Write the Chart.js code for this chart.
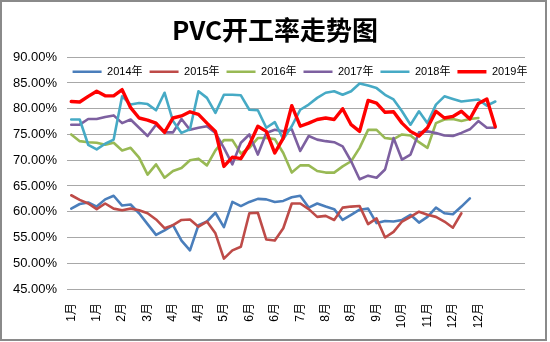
<!DOCTYPE html>
<html>
<head>
<meta charset="utf-8">
<script src="https://cdn.jsdelivr.net/npm/chart.js@4.4.1/dist/chart.umd.min.js"></script>
<style>
  html, body { margin: 0; padding: 0; background: #fff; }
  #wrap { width: 550px; height: 342px; position: relative; }
</style>
</head>
<body>
<div id="wrap"><canvas id="c" width="550" height="342"></canvas></div>
<script>
// Weekly operating rate of PVC plants (%), one list per year
const seriesNames = ['2014年', '2015年', '2016年', '2017年', '2018年', '2019年'];

// Month tick labels, shown on every third week
const tickMonths = ['1月', '1月', '2月', '3月', '4月', '4月', '5月', '6月', '6月',
                    '7月', '8月', '8月', '9月', '10月', '11月', '12月', '12月'];
const weekCount = 54;

const rate2014 = [60.6, 61.5, 61.8, 61.0, 62.4, 63.1, 61.2, 61.4, 59.7, 57.6,
                  55.5, 56.4, 57.4, 54.4, 52.5, 57.4, 58.1, 59.8, 57.0, 61.9,
                  61.1, 61.9, 62.5, 62.4, 61.9, 62.1, 62.8, 63.1, 60.8, 61.6,
                  61.0, 60.5, 58.4, 59.4, 60.4, 60.6, 57.8, 58.2, 58.1, 58.4,
                  59.4, 57.9, 59.0, 60.8, 59.7, 59.5, 61.0, 62.6];
const rate2015 = [63.2, 62.3, 61.6, 60.5, 61.6, 60.6, 60.3, 60.6, 60.3, 59.7,
                  58.5, 56.8, 57.4, 58.4, 58.5, 57.1, 58.1, 55.8, 50.9, 52.5,
                  53.2, 59.7, 59.8, 54.6, 54.4, 56.8, 61.6, 61.6, 60.5, 59.0,
                  59.2, 58.4, 60.8, 61.0, 61.1, 57.6, 58.7, 55.0, 56.1, 58.1,
                  59.0, 60.0, 59.4, 59.0, 58.1, 56.9, 59.7];
const rate2016 = [75.0, 73.7, 73.5, 73.4, 73.0, 73.4, 71.9, 72.4, 70.5, 67.2,
                  69.2, 66.6, 67.9, 68.5, 70.0, 70.3, 69.0, 71.9, 73.9, 73.9,
                  71.3, 72.4, 74.3, 74.3, 74.1, 71.4, 67.6, 69.0, 69.0, 67.9,
                  67.6, 67.6, 68.8, 69.8, 72.4, 75.9, 75.9, 74.3, 74.1, 75.0,
                  74.8, 73.5, 72.4, 77.2, 77.9, 78.0, 77.6, 78.0, 78.2];
const rate2017 = [76.9, 76.9, 78.0, 78.0, 78.4, 78.7, 77.2, 77.9, 76.3, 74.7,
                  76.9, 75.4, 75.4, 78.0, 75.9, 76.3, 76.6, 75.3, 72.4, 69.2,
                  73.4, 75.0, 71.1, 75.3, 75.9, 75.6, 76.0, 71.8, 74.7, 74.0,
                  73.7, 73.5, 72.7, 69.8, 66.3, 67.0, 66.6, 68.2, 74.3, 70.1,
                  71.1, 75.4, 75.6, 75.3, 74.8, 74.7, 75.3, 76.0, 77.6, 76.3,
                  76.3];
const rate2018 = [77.9, 77.9, 73.0, 72.1, 73.2, 74.0, 82.4, 80.8, 81.1, 80.9,
                  79.7, 83.1, 77.6, 75.3, 76.0, 83.4, 82.1, 79.2, 82.7, 82.7,
                  82.6, 79.8, 79.7, 76.3, 77.4, 74.1, 76.6, 79.8, 80.8, 82.1,
                  83.1, 83.4, 82.7, 83.4, 84.9, 84.5, 84.0, 82.7, 81.8, 79.5,
                  76.9, 79.5, 77.2, 80.8, 82.4, 81.9, 81.4, 81.6, 81.8, 80.6,
                  81.4];
const rate2019 = [81.4, 81.3, 82.4, 83.4, 82.5, 82.5, 83.7, 80.2, 78.2, 77.8,
                  77.2, 75.4, 78.2, 78.6, 79.4, 78.9, 77.2, 75.6, 68.8, 70.6,
                  70.3, 73.0, 76.6, 75.6, 71.4, 74.3, 80.6, 76.6, 77.2, 77.9,
                  78.2, 77.9, 80.0, 76.9, 75.6, 81.6, 81.1, 79.3, 79.4, 77.2,
                  75.6, 74.7, 76.3, 79.5, 78.2, 78.5, 79.5, 78.0, 81.0, 81.9,
                  76.5];

const seriesData = [rate2014, rate2015, rate2016, rate2017, rate2018, rate2019];
const seriesColors = ['#4a7ebb', '#be4b48', '#98b954', '#7d60a0', '#46aac5', '#ff0000'];
const seriesWidths = [2.6, 2.6, 2.6, 2.6, 2.6, 3.4];

const weekLabels = [];
for (let i = 0; i < weekCount; i++) {
  weekLabels.push(i % 3 === 0 && tickMonths[i / 3] ? tickMonths[i / 3] : '');
}

const latin = '"Liberation Sans", "Noto Sans CJK SC", sans-serif';

// White page with a thin grey frame around the chart
const framePlugin = {
  id: 'frame',
  beforeDraw(chart) {
    const ctx = chart.ctx;
    ctx.save();
    ctx.fillStyle = '#ffffff';
    ctx.fillRect(0, 0, chart.width, chart.height);
    ctx.strokeStyle = '#8a8a8a';
    ctx.lineWidth = 2;
    ctx.strokeRect(1, 1, 545, 339);
    ctx.restore();
  }
};

// Title centred on the whole page; legend moved inside the top of the plot area,
// centred over the plot
const placementPlugin = {
  id: 'placement',
  afterLayout(chart) {
    const tb = chart.titleBlock;
    if (tb) {
      tb.left = 0;
      tb.right = chart.width;
      tb.width = chart.width;
    }
    const lg = chart.legend;
    if (lg) {
      const area = chart.chartArea;
      const shift = (area.left + area.right) / 2 - (lg.left + lg.right) / 2 + 4;
      lg.left += shift;
      lg.right += shift;
      const top = area.top + 2;
      lg.top = top;
      lg.height = 30;
      lg.bottom = top + 30;
    }
  }
};

new Chart(document.getElementById('c'), {
  type: 'line',
  data: {
    labels: weekLabels,
    datasets: seriesNames.map((name, k) => ({
      label: name,
      data: seriesData[k],
      borderColor: seriesColors[k],
      backgroundColor: seriesColors[k],
      borderWidth: seriesWidths[k],
      pointRadius: 0,
      tension: 0,
      fill: false,
      borderJoinStyle: 'round',
      borderCapStyle: 'round',
      order: seriesNames.length - 1 - k
    }))
  },
  options: {
    responsive: false,
    devicePixelRatio: 1,
    animation: false,
    layout: { padding: { left: 4, right: 25, top: 0, bottom: 0 } },
    plugins: {
      title: {
        display: true,
        text: 'PVC开工率走势图',
        color: '#000',
        font: { family: '"Noto Sans CJK SC", sans-serif', size: 26, weight: 'bold', lineHeight: 1.2 },
        padding: { top: 15, bottom: 10 }
      },
      legend: {
        position: 'top',
        maxHeight: 1,
        labels: {
          usePointStyle: true,
          pointStyle: 'line',
          pointStyleWidth: 29,
          color: '#000',
          font: { family: latin, size: 11 },
          padding: 7,
          sort: (a, b) => a.datasetIndex - b.datasetIndex
        }
      },
      tooltip: { enabled: false }
    },
    scales: {
      x: {
        type: 'category',
        offset: true,
        grid: { display: false, drawTicks: false },
        border: { display: false },
        ticks: {
          autoSkip: false,
          minRotation: 90,
          maxRotation: 90,
          padding: 14,
          color: '#000',
          font: { family: latin, size: 12 }
        },
        afterFit(scale) { scale.height = 53; }
      },
      y: {
        min: 45,
        max: 90,
        grid: { color: '#a8a8a8', lineWidth: 1, drawTicks: false },
        border: { display: false },
        ticks: {
          stepSize: 5,
          padding: 10,
          color: '#000',
          font: { family: latin, size: 13 },
          callback: v => v.toFixed(2) + '%'
        },
        afterFit(scale) { scale.width = 63; }
      }
    }
  },
  plugins: [framePlugin, placementPlugin]
});
</script>
</body>
</html>
